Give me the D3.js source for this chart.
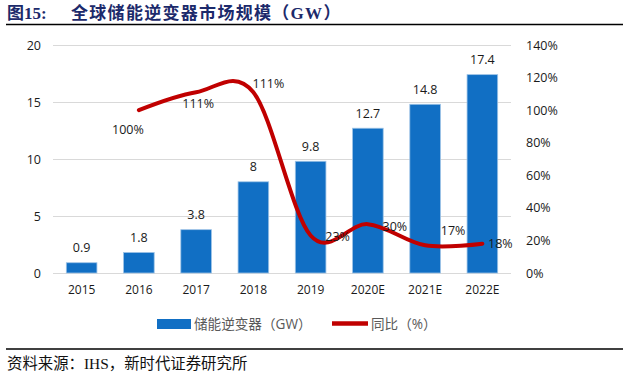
<!DOCTYPE html>
<html><head><meta charset="utf-8">
<script src="https://cdn.jsdelivr.net/npm/d3@7"></script>
<style>
body{margin:0;background:#fff;}
svg{display:block;}
</style></head>
<body>
<svg id="c" width="623" height="381"></svg>
<script>
const categories = ["2015","2016","2017","2018","2019","2020E","2021E","2022E"];
const capacity = [0.9, 1.8, 3.8, 8, 9.8, 12.7, 14.8, 17.4];
const growth = [null, 1.00, 1.11, 1.11, 0.23, 0.30, 0.17, 0.18];
const growthLabels = ["", "100%", "111%", "111%", "23%", "30%", "17%", "18%"];
const leftTicks = [0, 5, 10, 15, 20];
const rightTicks = [0, 0.2, 0.4, 0.6, 0.8, 1.0, 1.2, 1.4];
const titleNo = "图15:";
const titleText = "全球储能逆变器市场规模（GW）";
const legendBar = "储能逆变器（GW）";
const legendLine = "同比（%）";
const source = "资料来源：IHS，新时代证券研究所";
// label offsets (dx, dy) for growth labels, layout only
const growthLabelOffset = [[0,0],[-11,19],[2,11],[15,-9],[27,1],[27,2],[28,-15],[18,0]];

const svg = d3.select("#c");
const L = 53, R = 511, T = 45, B = 273;
const font = "'Open Sans', 'Noto Sans CJK SC', sans-serif";

const x = d3.scaleBand().domain(categories).range([L, R]).paddingInner(0.465).paddingOuter(0.2325);
const yL = d3.scaleLinear().domain([0, 20]).range([B, T]);
const yR = d3.scaleLinear().domain([0, 1.4]).range([B, T]);

// gridlines
svg.append("g").selectAll("line").data(leftTicks).join("line")
  .attr("x1", L).attr("x2", R)
  .attr("y1", d => Math.round(yL(d)) + 0.5).attr("y2", d => Math.round(yL(d)) + 0.5)
  .attr("stroke", "#d9d9d9").attr("stroke-width", 1);

// left axis
const axL = svg.append("g").attr("transform", `translate(${L},0)`)
  .call(d3.axisLeft(yL).tickValues(leftTicks).tickSize(0).tickPadding(12));
axL.select(".domain").remove();
axL.selectAll("text").attr("font-family", font).attr("font-size", 12.5).attr("fill", "#1a1a1a");

// right axis
const axR = svg.append("g").attr("transform", `translate(${R},0)`)
  .call(d3.axisRight(yR).tickValues(rightTicks).tickSize(0).tickPadding(15).tickFormat(d3.format(".0%")));
axR.select(".domain").remove();
axR.selectAll("text").attr("font-family", font).attr("font-size", 12.5).attr("fill", "#1a1a1a");

// bottom axis
const axB = svg.append("g").attr("transform", `translate(0,${B})`)
  .call(d3.axisBottom(x).tickSize(0).tickPadding(12));
axB.select(".domain").remove();
axB.selectAll("text").attr("font-family", font).attr("font-size", 12).attr("fill", "#1a1a1a");

// bars
svg.append("g").selectAll("rect").data(capacity).join("rect")
  .attr("x", (d, i) => x(categories[i]))
  .attr("y", d => yL(d))
  .attr("width", x.bandwidth())
  .attr("height", d => B - yL(d))
  .attr("fill", "#116fc4")
  .attr("stroke", "#9dc3e6").attr("stroke-width", 0.8);

svg.append("g").selectAll("text").data(capacity).join("text")
  .attr("x", (d, i) => x(categories[i]) + x.bandwidth() / 2)
  .attr("y", d => yL(d) - 15)
  .attr("dy", "0.35em")
  .attr("text-anchor", "middle")
  .attr("font-family", font).attr("font-size", 12.5).attr("fill", "#1a1a1a")
  .text(d => d);

// line
const pts = growth.map((g, i) => ({ x: x(categories[i]) + x.bandwidth() / 2, v: g }));
const line = d3.line().defined(d => d.v !== null)
  .x(d => d.x).y(d => yR(d.v)).curve(d3.curveCardinal.tension(0));
svg.append("path").datum(pts).attr("d", line)
  .attr("fill", "none").attr("stroke", "#c00000").attr("stroke-width", 4)
  .attr("stroke-linecap", "round").attr("stroke-linejoin", "round");

svg.append("g").selectAll("text").data(pts.filter(d => d.v !== null)).join("text")
  .attr("x", d => d.x + growthLabelOffset[pts.indexOf(d)][0])
  .attr("y", d => yR(d.v) + growthLabelOffset[pts.indexOf(d)][1])
  .attr("dy", "0.35em").attr("text-anchor", "middle")
  .attr("font-family", font).attr("font-size", 12.5).attr("fill", "#1a1a1a")
  .text(d => growthLabels[pts.indexOf(d)]);

// legend
const lg = svg.append("g");
lg.append("rect").attr("x", 157).attr("y", 319).attr("width", 34).attr("height", 10).attr("fill", "#116fc4");
lg.append("text").attr("x", 194).attr("y", 324).attr("dy", "0.35em")
  .attr("font-family", font).attr("font-size", 13.6).attr("fill", "#595959").text(legendBar);
lg.append("line").attr("x1", 332).attr("x2", 368).attr("y1", 323.5).attr("y2", 323.5)
  .attr("stroke", "#c00000").attr("stroke-width", 4.5);
lg.append("text").attr("x", 371).attr("y", 324).attr("dy", "0.35em")
  .attr("font-family", font).attr("font-size", 13.6).attr("fill", "#595959").text(legendLine);

// title
svg.append("text").attr("x", 7).attr("y", 13).attr("dy", "0.35em")
  .attr("font-family", "'Liberation Serif','Noto Sans CJK SC',serif").attr("font-weight", "bold")
  .attr("font-size", 17).attr("fill", "#1c2a6b").text(titleNo);
svg.append("text").attr("x", 71).attr("y", 13).attr("dy", "0.35em")
  .attr("font-family", "'Liberation Serif','Noto Sans CJK SC',serif").attr("font-weight", "bold")
  .attr("font-size", 17).attr("letter-spacing", 1.3).attr("fill", "#1c2a6b").text(titleText);
svg.append("line").attr("x1", 6).attr("x2", 623).attr("y1", 24.5).attr("y2", 24.5)
  .attr("stroke", "#000").attr("stroke-width", 1.5);

// footer
svg.append("line").attr("x1", 6).attr("x2", 623).attr("y1", 349).attr("y2", 349)
  .attr("stroke", "#000").attr("stroke-width", 1.5);
svg.append("text").attr("x", 7).attr("y", 364).attr("dy", "0.35em")
  .attr("font-family", "'Liberation Serif','Noto Sans CJK SC',serif")
  .attr("font-size", 15.4).attr("fill", "#111").text(source);
</script>
</body></html>
